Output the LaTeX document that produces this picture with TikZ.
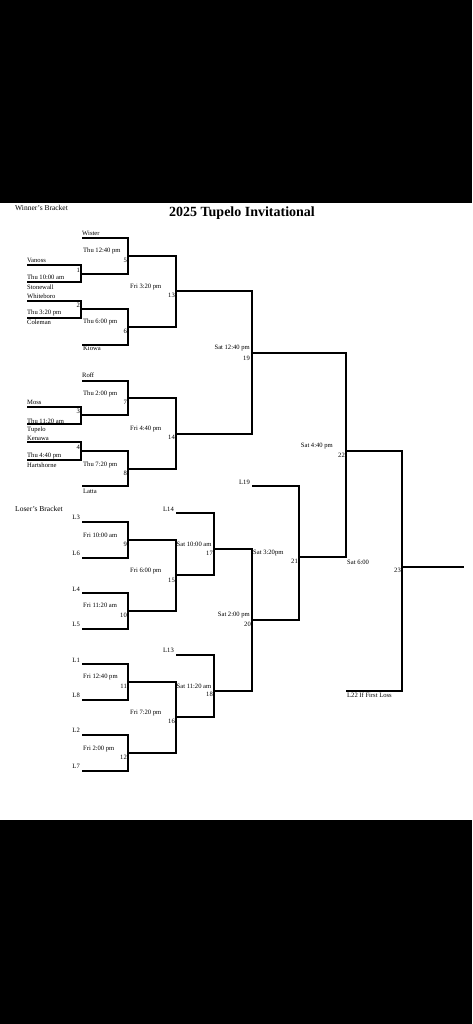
\documentclass[tikz,border=0pt]{standalone}
\usepackage{fontspec}
\setmainfont{Liberation Serif}
\usetikzlibrary{positioning}

\begin{document}
\begin{tikzpicture}[
    x=1pt, y=-1pt,
    bracket/.style={line width=1.8pt, line join=miter},
    every node/.style={inner sep=0pt, font=\fontsize{6.6}{7}\selectfont},
    lbl/.style={anchor=west},
    num/.style={anchor=east},
    hdr/.style={anchor=west, font=\fontsize{7.5}{8}\selectfont}
]
    \useasboundingbox (0,0) rectangle (472,1024);
    \fill[black] (0,0) rectangle (472,203.5);
    \fill[black] (0,819.5) rectangle (472,1024);

    \node[font=\fontsize{14}{15}\selectfont\bfseries] (title) at (242,213) {2025 Tupelo Invitational};
    \node[hdr] (winners) at (15,208) {Winner's Bracket};
    \node[hdr] (losers) at (15,508.5) {Loser's Bracket};

    % winner's bracket
    \coordinate (s1a) at (27,265);   \coordinate (s1b) at (27,282);
    \coordinate (s2a) at (27,301);   \coordinate (s2b) at (27,318);
    \coordinate (s3a) at (27,407);   \coordinate (s3b) at (27,424);
    \coordinate (s4a) at (27,442);   \coordinate (s4b) at (27,460);
    \coordinate (wister) at (82,238);
    \coordinate (kiowa) at (82,345);
    \coordinate (roff) at (82,381);
    \coordinate (latta) at (82,486);
    \coordinate (g1) at (81,274);    \coordinate (g2) at (81,309);
    \coordinate (g3) at (81,415);    \coordinate (g4) at (81,451);
    \coordinate (g5) at (128,256);   \coordinate (g6) at (128,327);
    \coordinate (g7) at (128,398);   \coordinate (g8) at (128,469);
    \coordinate (g13) at (176,291);  \coordinate (g14) at (176,434);
    \coordinate (g19) at (252,353);
    \coordinate (g22) at (346,451);
    \coordinate (g23) at (402,567);
    \coordinate (l22) at (346,691);
    \coordinate (champ) at (464,567);

    % loser's bracket
    \coordinate (l3) at (82,522);    \coordinate (l6) at (82,558);
    \coordinate (l4) at (82,593);    \coordinate (l5) at (82,629);
    \coordinate (l1) at (82,664);    \coordinate (l8) at (82,700);
    \coordinate (l2) at (82,735);    \coordinate (l7) at (82,771);
    \coordinate (l14) at (176,513);  \coordinate (l13) at (176,655);
    \coordinate (l19) at (252,486);
    \coordinate (g9) at (128,540);   \coordinate (g10) at (128,611);
    \coordinate (g11) at (128,682);  \coordinate (g12) at (128,753);
    \coordinate (g15) at (176,575);  \coordinate (g16) at (176,717);
    \coordinate (g17) at (214,549);  \coordinate (g18) at (214,691);
    \coordinate (g20) at (252,620);
    \coordinate (g21) at (299,557);

    \draw[bracket] (s1a) -| (g1) |- (s1b);
    \draw[bracket] (s2a) -| (g2) |- (s2b);
    \draw[bracket] (s3a) -| (g3) |- (s3b);
    \draw[bracket] (s4a) -| (g4) |- (s4b);
    \draw[bracket] (wister) -| (g5) |- (g1);
    \draw[bracket] (g2) -| (g6) |- (kiowa);
    \draw[bracket] (roff) -| (g7) |- (g3);
    \draw[bracket] (g4) -| (g8) |- (latta);
    \draw[bracket] (g5) -| (g13) |- (g6);
    \draw[bracket] (g7) -| (g14) |- (g8);
    \draw[bracket] (g13) -| (g19) |- (g14);
    \draw[bracket] (g19) -| (g22) |- (g21);
    \draw[bracket] (g22) -| (g23) |- (l22);
    \draw[bracket] (g23) -- (champ);

    \draw[bracket] (l3) -| (g9) |- (l6);
    \draw[bracket] (l4) -| (g10) |- (l5);
    \draw[bracket] (l1) -| (g11) |- (l8);
    \draw[bracket] (l2) -| (g12) |- (l7);
    \draw[bracket] (g9) -| (g15) |- (g10);
    \draw[bracket] (g11) -| (g16) |- (g12);
    \draw[bracket] (l14) -| (g17) |- (g15);
    \draw[bracket] (l13) -| (g18) |- (g16);
    \draw[bracket] (g17) -| (g20) |- (g18);
    \draw[bracket] (l19) -| (g21) |- (g20);

    % teams and times
    \node[lbl] (tWister) at (82,233) {Wister};
    \node[lbl] (d5) at (83,251) {Thu 12:40 pm};
    \node[num] (n5) at (127,260) {5};
    \node[lbl] (tVanoss) at (27,260) {Vanoss};
    \node[lbl] (d1) at (27,277) {Thu 10:00 am};
    \node[num] (n1) at (80,270) {1};
    \node[lbl] (tStonewall) at (27,287) {Stonewall};
    \node[lbl] (d13) at (130,287) {Fri 3:20 pm};
    \node[num] (n13) at (175,295) {13};
    \node[lbl] (tWhiteboro) at (27,296) {Whiteboro};
    \node[num] (n2) at (80,305) {2};
    \node[lbl] (d2) at (27,313) {Thu 3:20 pm};
    \node[lbl] (tColeman) at (27,322) {Coleman};
    \node[lbl] (d6) at (83,322) {Thu 6:00 pm};
    \node[num] (n6) at (127,331) {6};
    \node[lbl] (tKiowa) at (83,348) {Kiowa};
    \node[num] (d19) at (250,348) {Sat 12:40 pm};
    \node[num] (n19) at (250,358) {19};

    \node[lbl] (tRoff) at (82,375) {Roff};
    \node[lbl] (d7) at (83,393.5) {Thu 2:00 pm};
    \node[num] (n7) at (127,402) {7};
    \node[lbl] (tMoss) at (27,402) {Moss};
    \node[num] (n3) at (80,411.5) {3};
    \node[lbl] (d3) at (27,421) {Thu 11:20 am};
    \node[lbl] (tTupelo) at (27,429.5) {Tupelo};
    \node[lbl] (d14) at (130,429.5) {Fri 4:40 pm};
    \node[num] (n14) at (175,437.5) {14};
    \node[lbl] (tKenawa) at (27,438.5) {Kenawa};
    \node[num] (n4) at (80,447) {4};
    \node[lbl] (d4) at (27,456) {Thu 4:40 pm};
    \node[lbl] (tHartshorne) at (27,465) {Hartshorne};
    \node[lbl] (d8) at (83,465) {Thu 7:20 pm};
    \node[num] (n8) at (127,473) {8};
    \node[lbl] (tLatta) at (83,491) {Latta};

    \node[num] (d22) at (333,446.5) {Sat 4:40 pm};
    \node[num] (n22) at (345,455.5) {22};
    \node[lbl] (d21) at (253,553.5) {Sat 3:20pm};
    \node[num] (n21) at (298,561.5) {21};
    \node[lbl] (d23) at (347,562) {Sat 6:00};
    \node[num] (n23) at (401,570.5) {23};
    \node[lbl] (tL22) at (347,695) {L22 If First Loss};

    \node[num] (tL14) at (174,509) {L14};
    \node[num] (tL19) at (250,482) {L19};
    \node[num] (tL3) at (80,517.5) {L3};
    \node[lbl] (d9) at (83,535.5) {Fri 10:00 am};
    \node[num] (n9) at (127,544.5) {9};
    \node[lbl] (d17) at (176.5,544.5) {Sat 10:00 am};
    \node[num] (n17) at (213,553) {17};
    \node[num] (tL6) at (80,553) {L6};
    \node[lbl] (d15) at (130,571) {Fri 6:00 pm};
    \node[num] (n15) at (175,580) {15};
    \node[num] (tL4) at (80,589) {L4};
    \node[lbl] (d10) at (83,605.5) {Fri 11:20 am};
    \node[num] (n10) at (127,615) {10};
    \node[num] (d20) at (250,615.5) {Sat 2:00 pm};
    \node[num] (n20) at (251,624.5) {20};
    \node[num] (tL5) at (80,624) {L5};

    \node[num] (tL13) at (174,650.5) {L13};
    \node[num] (tL1) at (80,660) {L1};
    \node[lbl] (d11) at (83,677.5) {Fri 12:40 pm};
    \node[num] (n11) at (127,686.5) {11};
    \node[lbl] (d18) at (176.5,686.5) {Sat 11:20 am};
    \node[num] (n18) at (213,694.5) {18};
    \node[num] (tL8) at (80,695.5) {L8};
    \node[lbl] (d16) at (130,712.5) {Fri 7:20 pm};
    \node[num] (n16) at (175,721.5) {16};
    \node[num] (tL2) at (80,730.5) {L2};
    \node[lbl] (d12) at (83,748.5) {Fri 2:00 pm};
    \node[num] (n12) at (127,757.5) {12};
    \node[num] (tL7) at (80,766) {L7};
\end{tikzpicture}
\end{document}
